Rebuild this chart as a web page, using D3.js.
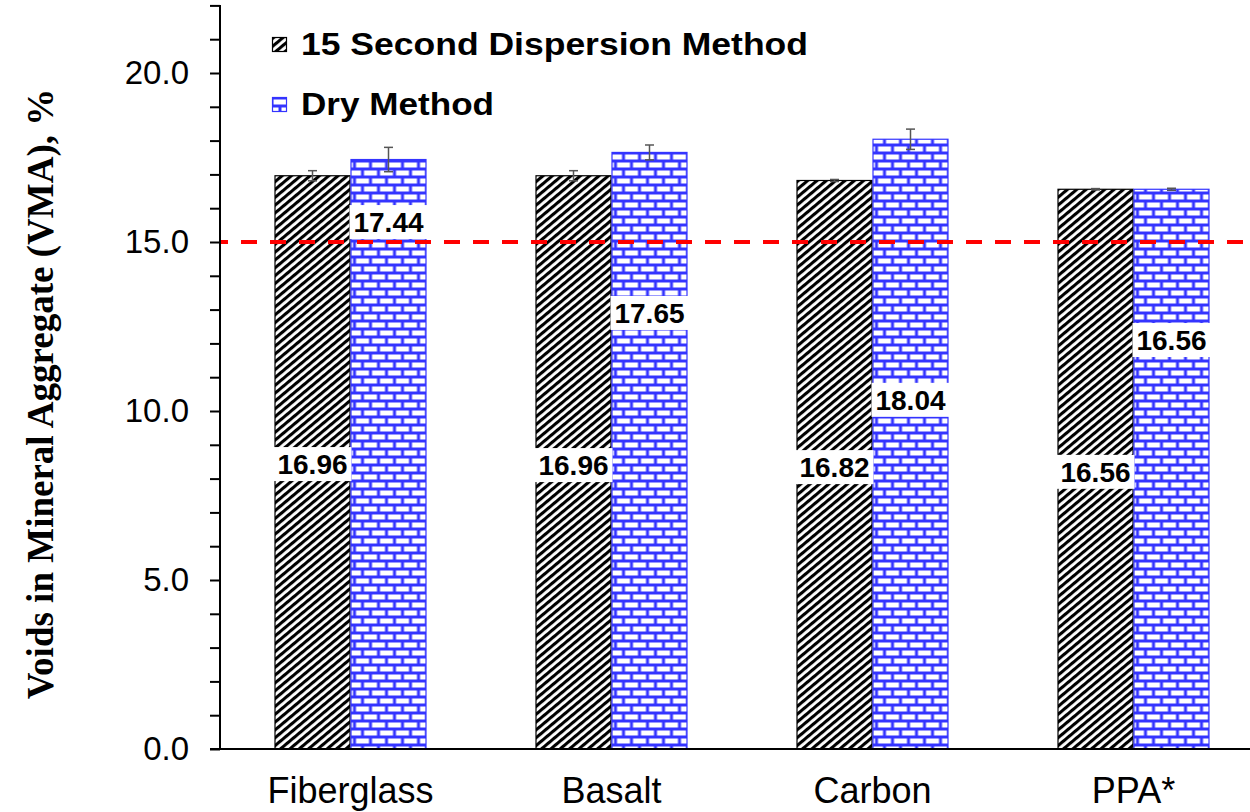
<!DOCTYPE html>
<html>
<head>
<meta charset="utf-8">
<script src="https://cdn.jsdelivr.net/npm/d3@7"></script>
<style>
  html, body { margin: 0; padding: 0; background: #fff; }
  svg { display: block; }
</style>
</head>
<body>
<svg id="chart" width="1250" height="812"></svg>
<script>
// Mix categories and the two test methods
const categories = ["Fiberglass", "Basalt", "Carbon", "PPA*"];
const seriesNames = ["15 Second Dispersion Method", "Dry Method"];

// VMA (%) for each method
const dispersionVMA = [16.96, 16.96, 16.82, 16.56];
const dryVMA = [17.44, 17.65, 18.04, 16.56];

// Standard deviation shown as error bars
const dispersionErr = [0.15, 0.15, 0.03, 0.02];
const dryErr = [0.36, 0.22, 0.30, 0.03];

// Height (in VMA units) at which each value label sits
const dispersionLabelAt = [8.43, 8.40, 8.34, 8.20];
const dryLabelAt = [15.59, 12.90, 10.33, 12.10];

// Minimum VMA requirement
const vmaLimit = 15.0;

// Y-axis ticks
const yMajorTicks = [0, 5, 10, 15, 20];
const yMinorStep = 1;
const yMax = 22;

const svg = d3.select("#chart");
const W = 1250, H = 812;
const plotLeft = 220, plotBottom = 749, plotTop = 5;
const step = 261;

const y = d3.scaleLinear().domain([0, yMax]).range([plotBottom, plotBottom - (plotBottom - 73) * yMax / 20]);

const x0 = d3.scaleBand()
  .domain(categories)
  .range([plotLeft, plotLeft + step * categories.length])
  .paddingInner(109 / 261)
  .paddingOuter(109 / 522);

const x1 = d3.scaleBand()
  .domain(seriesNames)
  .range([0, x0.bandwidth()]);

// Fill patterns
const defs = svg.append("defs");

const hatch = defs.append("pattern")
  .attr("id", "hatch")
  .attr("patternUnits", "userSpaceOnUse")
  .attr("width", 6).attr("height", 6)
  .attr("patternTransform", "rotate(-40)");
hatch.append("rect").attr("width", 6).attr("height", 6).attr("fill", "#fff");
hatch.append("rect").attr("width", 6).attr("height", 3.1).attr("fill", "#000");

const brick = defs.append("pattern")
  .attr("id", "brick")
  .attr("patternUnits", "userSpaceOnUse")
  .attr("x", 0).attr("y", 1)
  .attr("width", 16).attr("height", 16);
brick.append("rect").attr("width", 16).attr("height", 16).attr("fill", "#3434ff");
brick.append("rect").attr("x", 1.5).attr("y", 1.5).attr("width", 13).attr("height", 5).attr("fill", "#fff");
brick.append("rect").attr("x", -6.5).attr("y", 9.5).attr("width", 13).attr("height", 5).attr("fill", "#fff");
brick.append("rect").attr("x", 9.5).attr("y", 9.5).attr("width", 13).attr("height", 5).attr("fill", "#fff");

const fills = { [seriesNames[0]]: "url(#hatch)", [seriesNames[1]]: "url(#brick)" };
const strokes = { [seriesNames[0]]: "#000", [seriesNames[1]]: "#3434ff" };

const rows = categories.map((c, i) => ({
  cat: c,
  items: [
    { s: seriesNames[0], v: dispersionVMA[i], e: dispersionErr[i], at: dispersionLabelAt[i] },
    { s: seriesNames[1], v: dryVMA[i], e: dryErr[i], at: dryLabelAt[i] }
  ]
}));

// Bars
const groups = svg.append("g").selectAll("g")
  .data(rows).join("g")
  .attr("transform", d => `translate(${x0(d.cat)},0)`);

groups.selectAll("rect.bar")
  .data(d => d.items).join("rect")
  .attr("class", "bar")
  .attr("x", d => x1(d.s) + 0.5)
  .attr("y", d => y(d.v))
  .attr("width", x1.bandwidth() - 1)
  .attr("height", d => y(0) - y(d.v))
  .attr("fill", d => fills[d.s])
  .attr("stroke", d => strokes[d.s])
  .attr("stroke-width", 1.2);

// Error bars
const eb = groups.selectAll("g.err")
  .data(d => d.items).join("g")
  .attr("class", "err")
  .attr("stroke", "#555")
  .attr("stroke-width", 1.5);
eb.append("line")
  .attr("x1", d => x1(d.s) + x1.bandwidth() / 2)
  .attr("x2", d => x1(d.s) + x1.bandwidth() / 2)
  .attr("y1", d => y(d.v + d.e))
  .attr("y2", d => y(d.v - d.e));
eb.append("line")
  .attr("x1", d => x1(d.s) + x1.bandwidth() / 2 - 4.5)
  .attr("x2", d => x1(d.s) + x1.bandwidth() / 2 + 4.5)
  .attr("y1", d => y(d.v + d.e))
  .attr("y2", d => y(d.v + d.e));
eb.append("line")
  .attr("x1", d => x1(d.s) + x1.bandwidth() / 2 - 4.5)
  .attr("x2", d => x1(d.s) + x1.bandwidth() / 2 + 4.5)
  .attr("y1", d => y(d.v - d.e))
  .attr("y2", d => y(d.v - d.e));

// Minimum VMA reference line
svg.append("line")
  .attr("x1", plotLeft).attr("x2", W)
  .attr("y1", y(vmaLimit)).attr("y2", y(vmaLimit))
  .attr("stroke", "#ff0000")
  .attr("stroke-width", 4)
  .attr("stroke-dasharray", "16,13")
  .attr("stroke-dashoffset", 8);

// Value labels on white boxes
const labels = groups.selectAll("g.lab")
  .data(d => d.items).join("g")
  .attr("class", "lab")
  .attr("transform", d => `translate(${x1(d.s) + x1.bandwidth() / 2},${y(d.at)})`);
labels.append("rect")
  .attr("x", -39).attr("y", -17)
  .attr("width", 78).attr("height", 34)
  .attr("fill", "#fff");
labels.append("text")
  .attr("text-anchor", "middle")
  .attr("dy", "0.36em")
  .attr("font-family", "Liberation Sans, Arial, sans-serif")
  .attr("font-weight", "bold")
  .attr("font-size", 28)
  .text(d => d.v.toFixed(2));

// Y axis
const yTicks = d3.range(0, yMax + 0.001, yMinorStep);
const yAxis = d3.axisLeft(y)
  .tickValues(yTicks)
  .tickSize(10)
  .tickSizeOuter(0)
  .tickPadding(21)
  .tickFormat(d => yMajorTicks.includes(d) ? d.toFixed(1) : "");
const yg = svg.append("g")
  .attr("transform", `translate(${plotLeft},0)`)
  .call(yAxis);
yg.select(".domain").attr("stroke-width", 2).attr("d", `M0,${plotTop}V${plotBottom}`);
yg.selectAll(".tick line").attr("stroke-width", 2);
yg.selectAll(".tick text")
  .attr("font-family", "Liberation Sans, Arial, sans-serif")
  .attr("font-size", 33)
  .attr("fill", "#000");

// X axis baseline and category labels
svg.append("line")
  .attr("x1", plotLeft - 10).attr("x2", W)
  .attr("y1", plotBottom).attr("y2", plotBottom)
  .attr("stroke", "#000").attr("stroke-width", 2);

svg.append("g").selectAll("text")
  .data(categories).join("text")
  .attr("x", d => x0(d) + x0.bandwidth() / 2)
  .attr("y", 803)
  .attr("text-anchor", "middle")
  .attr("font-family", "Liberation Sans, Arial, sans-serif")
  .attr("font-size", 36)
  .text(d => d);

// Y axis title
svg.append("text")
  .attr("transform", `translate(53,394) rotate(-90)`)
  .attr("text-anchor", "middle")
  .attr("font-family", "Liberation Serif, Times New Roman, serif")
  .attr("font-weight", "bold")
  .attr("font-size", 37)
  .text("Voids in Mineral Aggregate (VMA), %");

// Legend
const legendWidths = [507, 193];
const legend = svg.append("g").selectAll("g")
  .data(seriesNames).join("g")
  .attr("transform", (d, i) => `translate(272,${37 + i * 60})`);
legend.append("rect")
  .attr("x", 0.5).attr("y", 0.5)
  .attr("width", 14).attr("height", 14)
  .attr("fill", d => fills[d])
  .attr("stroke", d => strokes[d])
  .attr("stroke-width", 1.2);
legend.append("text")
  .attr("x", 29).attr("y", 18)
  .attr("font-family", "Liberation Sans, Arial, sans-serif")
  .attr("font-weight", "bold")
  .attr("font-size", 31)
  .attr("textLength", (d, i) => legendWidths[i])
  .attr("lengthAdjust", "spacingAndGlyphs")
  .text(d => d);
</script>
</body>
</html>
